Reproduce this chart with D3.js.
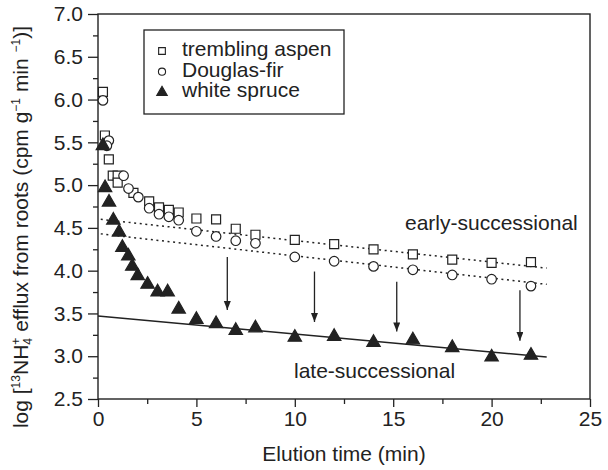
<!DOCTYPE html>
<meta charset="utf-8">
<style>
  body { margin: 0; background: #fff; }
  text { font-family: "Liberation Sans", Arial, sans-serif; fill: #222; }
</style>
<svg width="608" height="470"></svg>
<script src="https://cdn.jsdelivr.net/npm/d3@7"></script>
<script>

	// elution times and log efflux values
	var aspenX = [0.25, 0.35, 0.55, 0.75, 1.0, 1.0, 1.8, 2.6, 3.1, 3.6, 4.1, 5, 6, 7, 8, 10, 12, 14, 16, 18, 20, 22];
	var aspenY = [6.09, 5.58, 5.30, 5.11, 5.11, 5.03, 4.91, 4.81, 4.74, 4.71, 4.68, 4.61, 4.60, 4.49, 4.42, 4.36, 4.31, 4.25, 4.19, 4.13, 4.09, 4.10];

	var firX = [0.25, 0.55, 0.45, 1.3, 1.55, 2.05, 2.6, 3.1, 3.6, 4.1, 5, 6, 7, 8, 10, 12, 14, 16, 18, 20, 22];
	var firY = [5.99, 5.52, 5.46, 5.11, 4.96, 4.86, 4.73, 4.66, 4.63, 4.59, 4.46, 4.40, 4.35, 4.32, 4.16, 4.11, 4.05, 4.01, 3.95, 3.90, 3.82];

	var spruceX = [0.25, 0.36, 0.56, 0.78, 1.07, 1.24, 1.54, 1.74, 2.02, 2.52, 3.03, 3.54, 4.1, 5, 6, 7, 8, 10, 12, 14, 16, 18, 20, 22];
	var spruceY = [5.46, 4.97, 4.80, 4.59, 4.45, 4.27, 4.17, 4.05, 3.94, 3.84, 3.75, 3.75, 3.55, 3.43, 3.38, 3.30, 3.33, 3.22, 3.23, 3.16, 3.19, 3.10, 2.99, 3.01];

	// fitted lines: [x0, y0, x1, y1]
	var aspenFit = [0.14, 4.60, 22.8, 4.03];
	var firFit = [0.14, 4.43, 22.8, 3.84];
	var spruceFit = [0, 3.47, 22.8, 2.99];

	// arrows: x, from, to
	var arrowX = [6.57, 11.0, 15.18, 21.44];
	var arrowFrom = [4.16, 3.99, 3.87, 3.77];
	var arrowTo = [3.54, 3.40, 3.29, 3.18];

	var xMajor = [0, 5, 10, 15, 20, 25];
	var xMinor = [2.5, 7.5, 12.5, 17.5, 22.5];
	var yMajor = [2.5, 3.0, 3.5, 4.0, 4.5, 5.0, 5.5, 6.0, 6.5, 7.0];
	var yMinor = [2.75, 3.25, 3.75, 4.25, 4.75, 5.25, 5.75, 6.25, 6.75];

	var legendNames = ["trembling aspen", "Douglas-fir", "white spruce"];

	var svg = d3.select("svg");
	var x = d3.scaleLinear().domain([0, 25]).range([98, 590]);
	var y = d3.scaleLinear().domain([2.5, 7]).range([399, 14]);

	var ink = "#222";

	// axes
	var gx = svg.append("g").attr("transform", "translate(0,399)")
		.call(d3.axisBottom(x).tickValues(xMajor).tickSize(8).tickPadding(4).tickFormat(d3.format("d")));
	svg.append("g").attr("transform", "translate(0,399)")
		.call(d3.axisBottom(x).tickValues(xMinor).tickSize(5).tickFormat(""));
	var gy = svg.append("g").attr("transform", "translate(98,0)")
		.call(d3.axisLeft(y).tickValues(yMajor).tickSize(10).tickPadding(5).tickFormat(d3.format(".1f")));
	svg.append("g").attr("transform", "translate(98,0)")
		.call(d3.axisLeft(y).tickValues(yMinor).tickSize(5).tickFormat(""));

	svg.selectAll(".domain").remove();
	svg.selectAll(".tick line").attr("stroke", ink).attr("stroke-width", 1.3);
	svg.selectAll(".tick text").attr("font-size", 21).attr("fill", ink)
		.style("font-family", "'Liberation Sans', Arial, sans-serif");

	// frame
	svg.append("rect")
		.attr("x", x(0)).attr("y", y(7))
		.attr("width", x(25) - x(0)).attr("height", y(2.5) - y(7))
		.attr("fill", "none").attr("stroke", ink).attr("stroke-width", 1.4);

	// axis titles
	svg.append("text").attr("x", (x(0) + x(25)) / 2).attr("y", 461)
		.attr("text-anchor", "middle").attr("font-size", 21).text("Elution time (min)");

	var yl = svg.append("text").attr("transform", "translate(28,227) rotate(-90)")
		.attr("text-anchor", "middle").attr("font-size", 21);
	yl.append("tspan").text("log [");
	yl.append("tspan").attr("font-size", 12).attr("dy", -8).text("13");
	yl.append("tspan").attr("dy", 8).text("NH");
	yl.append("tspan").attr("font-size", 12).attr("dy", 4).text("4");
	yl.append("tspan").attr("font-size", 12).attr("dx", -6.7).attr("dy", -12).text("+");
	yl.append("tspan").attr("dy", 8).text(" efflux from roots (cpm g");
	yl.append("tspan").attr("font-size", 12).attr("dy", -8).text("\u22121");
	yl.append("tspan").attr("dy", 8).text(" min ");
	yl.append("tspan").attr("font-size", 12).attr("dy", -8).text("\u22121");
	yl.append("tspan").attr("dy", 8).text(")]");

	// fitted lines
	function fitLine(f, dashed) {
		svg.append("line")
			.attr("x1", x(f[0])).attr("y1", y(f[1]))
			.attr("x2", x(f[2])).attr("y2", y(f[3]))
			.attr("stroke", ink).attr("stroke-width", 1.5)
			.attr("stroke-dasharray", dashed ? "2,3.6" : null);
	}
	fitLine(aspenFit, true);
	fitLine(firFit, true);
	fitLine(spruceFit, false);

	// arrows
	svg.append("defs").append("marker")
		.attr("id", "head").attr("markerUnits", "userSpaceOnUse")
		.attr("markerWidth", 10).attr("markerHeight", 10)
		.attr("refX", 9).attr("refY", 3.5).attr("orient", "auto")
		.append("path").attr("d", "M0,0 L9,3.5 L0,7 Z").attr("fill", ink);

	svg.selectAll(".arrow").data(arrowX).enter().append("line")
		.attr("class", "arrow")
		.attr("x1", function(d) { return x(d); })
		.attr("x2", function(d) { return x(d); })
		.attr("y1", function(d, i) { return y(arrowFrom[i]); })
		.attr("y2", function(d, i) { return y(arrowTo[i]); })
		.attr("stroke", ink).attr("stroke-width", 1.3)
		.attr("marker-end", "url(#head)");

	// markers
	var sq = d3.symbol(d3.symbolSquare, 81);
	var ci = d3.symbol(d3.symbolCircle, 72);
	var tri = d3.symbol(d3.symbolTriangle, 78);

	function points(xs, ys, sym, filled) {
		svg.append("g").selectAll("path").data(xs).enter().append("path")
			.attr("transform", function(d, i) { return "translate(" + x(d) + "," + y(ys[i]) + ")"; })
			.attr("d", sym)
			.attr("fill", filled ? ink : "#fff")
			.attr("stroke", ink).attr("stroke-width", 1.2);
	}
	points(aspenX, aspenY, sq, false);
	points(firX, firY, ci, false);
	points(spruceX, spruceY, tri, true);

	// annotations
	svg.append("text").attr("x", 405).attr("y", 230).attr("font-size", 21).text("early-successional");
	svg.append("text").attr("x", 294).attr("y", 378).attr("font-size", 21).text("late-successional");

	// legend
	svg.append("rect").attr("x", 144).attr("y", 30).attr("width", 200).attr("height", 84)
		.attr("fill", "#fff").attr("stroke", ink).attr("stroke-width", 1.3);
	var legSyms = [d3.symbol(d3.symbolSquare, 45), d3.symbol(d3.symbolCircle, 40), d3.symbol(d3.symbolTriangle, 48)];
	var leg = svg.append("g").selectAll("g").data(legendNames).enter().append("g")
		.attr("transform", function(d, i) { return "translate(0," + (56 + i * 20.7) + ")"; });
	leg.append("path")
		.attr("transform", "translate(162,-5)")
		.attr("d", function(d, i) { return legSyms[i](); })
		.attr("fill", function(d, i) { return i == 2 ? ink : "#fff"; })
		.attr("stroke", ink).attr("stroke-width", 1.1);
	leg.append("text").attr("x", 182).attr("font-size", 21).text(function(d) { return d; });
</script>
